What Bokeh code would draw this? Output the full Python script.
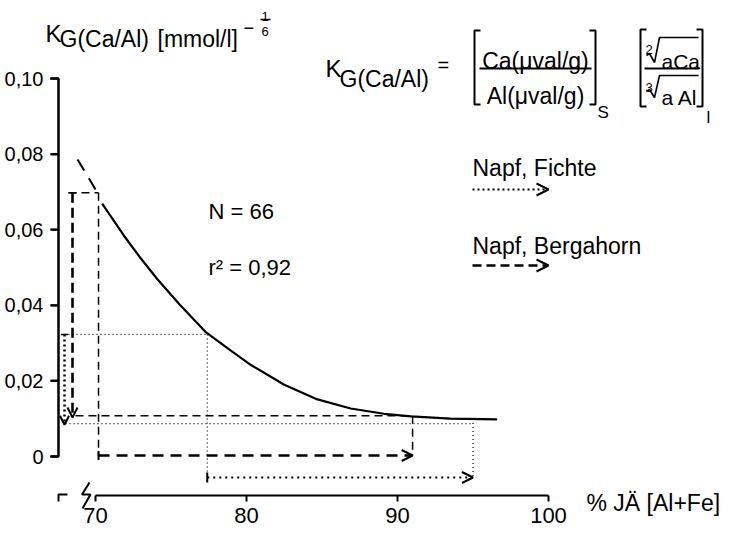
from bokeh.plotting import figure
from bokeh.models import Range1d, LinearAxis, FixedTicker, Arrow, OpenHead, TeeHead
from bokeh.core.properties import value
from bokeh.embed import file_html
from bokeh.resources import INLINE
import numpy as np

# ---------------- data ----------------
curve_x = [70.44, 71.85, 72.98, 74.10, 75.60, 77.28, 78.94, 80.30, 82.50, 84.70, 86.90, 89.10, 90.90, 93.50, 96.60]
curve_y = [0.0669, 0.0586, 0.0525, 0.0469, 0.0401, 0.0330, 0.0281, 0.0242, 0.0190, 0.0151, 0.0127, 0.0113, 0.0106, 0.0100, 0.0098]
extrap_x = [68.81, 70.13]
extrap_y = [0.0786, 0.0698]

x_ticks = [70, 80, 90, 100]
x_tick_labels = ["70", "80", "90", "100"]
y_ticks = [0, 0.02, 0.04, 0.06, 0.08, 0.10]
y_tick_labels = ["0", "0,02", "0,04", "0,06", "0,08", "0,10"]

# Napf, Bergahorn (dashed) reading
berg_x = [70.2, 91.0]        # % JÄ start -> end
berg_y = [0.0698, 0.0108]    # K_G start -> end
# Napf, Fichte (dotted) reading
fich_x = [77.4, 95.0]
fich_y = [0.0323, 0.0087]

n_text = "N = 66"
r2_text = "r² = 0,92"

# ---------------- pixel <-> data mapping ----------------
X70PX, XS = 95.0, 15.1      # canvas px of x=70, px per % unit
Y0PX, YS = 456.0, 3780.0    # canvas px of y=0, px per unit

def dx(sx):
    return 70 + (sx - X70PX) / XS

def dy(sy):
    return (Y0PX - sy) / YS

W, H = 725, 528
TXT = "Liberation Sans"

p = figure(width=W, height=H, x_range=Range1d(dx(0), dx(W)), y_range=Range1d(dy(H), dy(0)),
           x_axis_location=None, y_axis_location=None, toolbar_location=None,
           output_backend="svg", min_border=0, outline_line_color=None)
p.min_border_left = p.min_border_right = p.min_border_top = p.min_border_bottom = 0
p.xgrid.visible = False
p.ygrid.visible = False

AX_Y = dy(495)   # x-axis line position
AX_X = dx(58)    # y-axis line position

# y axis (bounded 0 .. 0,10)
yaxis = LinearAxis(fixed_location=AX_X, bounds=(y_ticks[0], y_ticks[-1]), ticker=FixedTicker(ticks=y_ticks),
                   major_label_overrides=dict(zip(y_ticks, y_tick_labels)))
yaxis.axis_line_width = 2
yaxis.axis_line_color = "black"
yaxis.major_tick_line_width = 2
yaxis.major_tick_line_color = "black"
yaxis.major_tick_in = 0
yaxis.major_tick_out = 8
yaxis.minor_tick_in = 0
yaxis.minor_tick_out = 0
yaxis.major_label_text_font = TXT
yaxis.major_label_text_font_size = "20px"
yaxis.major_label_text_color = "black"
yaxis.major_label_standoff = 7
p.add_layout(yaxis, "left")

# x axis (bounded 70 .. 100), labels from the axis
xaxis = LinearAxis(fixed_location=AX_Y, bounds=(x_ticks[0], x_ticks[-1]), ticker=FixedTicker(ticks=x_ticks),
                   major_label_overrides=dict(zip(x_ticks, x_tick_labels)))
xaxis.axis_line_color = None
xaxis.major_tick_line_color = None
xaxis.minor_tick_line_color = None
xaxis.major_tick_in = 0
xaxis.major_tick_out = 6
xaxis.minor_tick_in = 0
xaxis.minor_tick_out = 0
xaxis.major_label_text_font = TXT
xaxis.major_label_text_color = "black"
xaxis.major_label_text_font_size = "22px"
xaxis.major_label_standoff = 6
p.add_layout(xaxis, "below")

# axis rules and ticks, also drawn as glyphs on the data scale
x_tick_len = 6 / YS
y_tick_len = 8 / XS
p.line([x_ticks[0], x_ticks[-1]], [AX_Y, AX_Y], line_width=2, color="black")
p.segment(x0=x_ticks, y0=[AX_Y] * len(x_ticks), x1=x_ticks, y1=[AX_Y - x_tick_len] * len(x_ticks),
          line_width=2, color="black")
p.line([AX_X - y_tick_len, AX_X, AX_X, AX_X - y_tick_len],
       [y_ticks[-1], y_ticks[-1], y_ticks[0], y_ticks[0]], line_width=2, color="black")
p.segment(x0=[AX_X] * len(y_ticks), y0=y_ticks, x1=[AX_X - y_tick_len] * len(y_ticks), y1=y_ticks,
          line_width=2, color="black")

# axis break symbol
p.line([dx(58), dx(58), dx(67)], [dy(501), dy(494), dy(494)], line_width=2, color="black")
p.line([dx(89), dx(81.5), dx(90), dx(82)], [dy(482), dy(494), dy(494), dy(508)], line_width=2, color="black")

# fitted curve
p.line(curve_x, curve_y, line_width=2.2, color="black")
p.line(extrap_x, extrap_y, line_width=2, color="black", line_dash="13 9")

# ---- Bergahorn (dashed) ----
b_arrow_x = dx(72)
b_row_y = dy(455)
p.multi_line(
    xs=[[dx(68), berg_x[0]], [berg_x[0], berg_x[0]], [dx(75), berg_x[1]], [berg_x[1], berg_x[1]]],
    ys=[[berg_y[0], berg_y[0]], [berg_y[0], b_row_y], [berg_y[1], berg_y[1]], [berg_y[1], b_row_y]],
    line_width=1.5, color="black", line_dash="8 5")
p.add_layout(Arrow(x_start=b_arrow_x, y_start=berg_y[0], x_end=b_arrow_x, y_end=berg_y[1] - 0.0005,
                   line_width=2.6, line_dash="10 5", line_color="black",
                   start=TeeHead(size=8, line_width=1.5), end=OpenHead(size=10, line_width=2)))
p.add_layout(Arrow(x_start=berg_x[0], y_start=b_row_y, x_end=berg_x[1], y_end=b_row_y,
                   line_width=2.6, line_dash="11 7", line_color="black",
                   start=TeeHead(size=9, line_width=2), end=OpenHead(size=11, line_width=2)))

# ---- Fichte (dotted) ----
f_arrow_x = dx(64)
f_row_y = dy(477)
f_top95 = float(np.interp(fich_x[1], curve_x, curve_y))
p.multi_line(
    xs=[[f_arrow_x, fich_x[0]], [fich_x[0], fich_x[0]], [dx(65), fich_x[1]], [fich_x[1], fich_x[1]]],
    ys=[[fich_y[0], fich_y[0]], [fich_y[0], f_row_y], [fich_y[1], fich_y[1]], [f_top95, f_row_y]],
    line_width=1.2, color="black", line_dash="1 3")
p.add_layout(Arrow(x_start=f_arrow_x, y_start=fich_y[0], x_end=f_arrow_x, y_end=fich_y[1] - 0.0003,
                   line_width=2.5, line_dash="2 3", line_color="black",
                   start=TeeHead(size=7, line_width=1.5), end=OpenHead(size=9, line_width=2)))
p.add_layout(Arrow(x_start=fich_x[0], y_start=f_row_y, x_end=fich_x[1], y_end=f_row_y,
                   line_width=2.2, line_dash="2 4", line_color="black",
                   start=TeeHead(size=10, line_width=2), end=OpenHead(size=11, line_width=2)))

# ---- legend ----
p.add_layout(Arrow(x_start=dx(472), y_start=dy(189), x_end=dx(548), y_end=dy(189),
                   line_width=2, line_dash="2 3", line_color="black",
                   end=OpenHead(size=12, line_width=2)))
p.add_layout(Arrow(x_start=dx(472), y_start=dy(265), x_end=dx(548), y_end=dy(265),
                   line_width=2.6, line_dash="9 5", line_color="black",
                   end=OpenHead(size=12, line_width=2)))


def put(txt, sx, sy, size, font=TXT, align="left"):
    p.text(x=[dx(sx)], y=[dy(sy)], text=[txt], text_font=value(font), text_font_size=f"{size}px",
           text_align=align, text_baseline="alphabetic", text_color="black")


# y-axis title
put("K", 45, 33, 24)
put("G(Ca/Al)", 59, 38, 23)
put("[mmol/l]", 157, 38, 23)
put("−", 243, 27, 18)
put("1", 261, 16, 13)
put("6", 261, 31, 13)
p.line([dx(260), dx(270)], [dy(19), dy(19)], line_width=1.5, color="black")

# formula
put("K", 325, 68, 24)
put("G(Ca/Al)", 339, 78, 23)
put("=", 437, 64, 20)
put("Ca(μval/g)", 535, 60, 23, align="center")
put("Al(μval/g)", 535, 95, 23, align="center")
p.line([dx(479), dx(591)], [dy(68), dy(68)], line_width=2, color="black")
p.multi_line(xs=[[dx(480), dx(474), dx(474), dx(480)], [dx(589), dx(595), dx(595), dx(589)],
                 [dx(646), dx(640), dx(640), dx(646)], [dx(696), dx(702), dx(702), dx(696)]],
             ys=[[dy(30), dy(30), dy(104), dy(104)], [dy(30), dy(30), dy(104), dy(104)],
                 [dy(29), dy(29), dy(106), dy(106)], [dy(29), dy(29), dy(106), dy(106)]],
             line_width=2, color="black")
put("S", 597, 112, 17)
put("2", 645, 49, 13)
put("aCa", 661, 61, 21)
p.line([dx(644), dx(699)], [dy(68), dy(68)], line_width=2, color="black")
put("3", 645, 87, 13)
put("a Al", 661, 97, 21)
p.multi_line(xs=[[dx(646), dx(649), dx(654), dx(659), dx(698)], [dx(646), dx(649), dx(654), dx(659), dx(698)]],
             ys=[[dy(55), dy(53), dy(62), dy(37), dy(37)], [dy(91), dy(89), dy(97), dy(75), dy(75)]],
             line_width=1.6, color="black")
put("l", 706, 117, 17)

# legend texts
put("Napf, Fichte", 472, 167, 23)
put("Napf, Bergahorn", 472, 245, 23)

# statistics
put(n_text, 208, 211, 22)
put(r2_text, 208, 267, 22)

# x-axis title
put("% JÄ [Al+Fe]", 586, 502, 23)

open("out.html", "w").write(file_html(p, INLINE))
